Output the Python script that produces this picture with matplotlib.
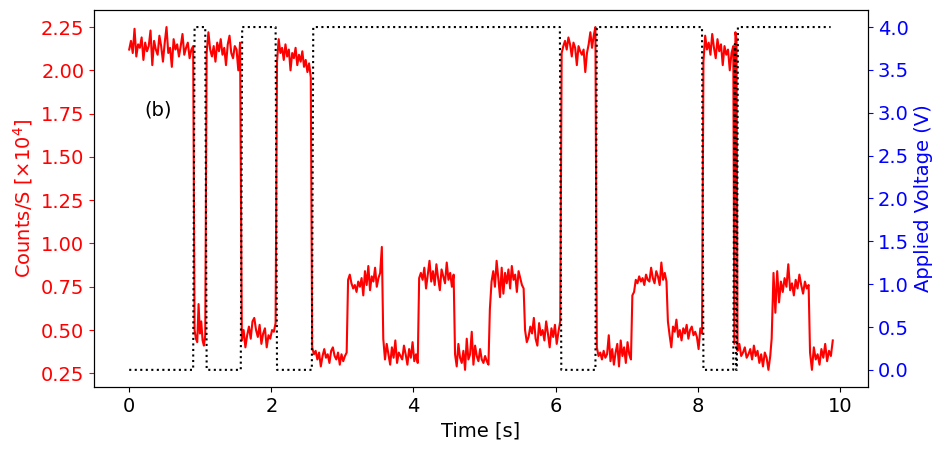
"""
Photon counts vs. applied voltage, panel (b).
"""

import numpy as np
import matplotlib.pyplot as plt

plt.rcParams.update({
    'font.family': 'DejaVu Sans',
    'font.size': 14,
})

# ── Applied voltage (square wave, corner points) ───────────────
volt_t = [0.0, 0.90, 0.92, 1.07, 1.09, 1.57, 1.59, 2.06, 2.08, 2.57, 2.59, 6.06,
          6.08, 6.56, 6.58, 8.06, 8.08, 8.50, 8.52, 8.53, 8.54, 8.55, 8.565, 9.87]
volt_v = [0, 0, 4, 4, 0, 0, 4, 4, 0, 0, 4, 4,
          0, 0, 4, 4, 0, 0, 3.8, 3.8, 0, 0, 4, 4]

# ── Counts trace, read segment by segment (start, end, values) ──
seg_start = [0.0, 0.92, 1.09, 1.585, 2.08, 2.575, 3.08, 3.575, 4.08, 4.585, 5.075,
             5.57, 6.085, 6.58, 7.08, 7.58, 8.08, 8.515, 8.56, 9.04, 9.58]
seg_end = [0.90, 1.07, 1.56, 2.06, 2.555, 3.06, 3.555, 4.06, 4.565, 5.055, 5.55,
           6.065, 6.56, 7.06, 7.56, 8.06, 8.50, 8.545, 9.02, 9.56, 9.90]
seg_values = [
    [2.12, 2.17, 2.10, 2.24, 2.08, 2.15, 2.13, 2.19, 2.06, 2.16, 2.11, 2.14, 2.23,
     2.03, 2.17, 2.12, 2.09, 2.20, 2.14, 2.05, 2.16, 2.25, 2.10, 2.13, 2.02, 2.18,
     2.12, 2.15, 2.08, 2.14, 2.21, 2.09, 2.13, 2.16, 2.07, 2.12, 2.14],
    [0.50, 0.45, 0.43, 0.65, 0.48, 0.55, 0.44, 0.41, 0.47],
    [2.10, 2.22, 2.12, 2.08, 2.14, 2.05, 2.16, 2.11, 2.18, 2.09, 2.13, 2.03, 2.15,
     2.20, 2.10, 2.07, 2.14, 2.12, 2.00, 2.16],
    [0.44, 0.50, 0.40, 0.47, 0.52, 0.45, 0.55, 0.57, 0.50, 0.46, 0.53, 0.42, 0.48,
     0.51, 0.40, 0.47, 0.45, 0.50, 0.49, 0.54],
    [2.05, 2.18, 2.10, 2.13, 2.06, 2.15, 2.08, 2.12, 2.00, 2.10, 2.07, 2.13, 2.03,
     2.09, 2.05, 2.11, 2.02, 2.06, 1.99, 2.04, 1.96],
    [0.40, 0.36, 0.38, 0.33, 0.37, 0.29, 0.35, 0.39, 0.34, 0.36, 0.31, 0.38, 0.40,
     0.35, 0.33, 0.37, 0.30, 0.36, 0.32, 0.35, 0.37],
    [0.79, 0.82, 0.77, 0.74, 0.76, 0.72, 0.78, 0.75, 0.80, 0.70, 0.84, 0.76, 0.87,
     0.73, 0.81, 0.78, 0.86, 0.75, 0.80, 0.83, 0.98],
    [0.45, 0.33, 0.42, 0.36, 0.30, 0.40, 0.34, 0.44, 0.31, 0.37, 0.35, 0.33, 0.41,
     0.36, 0.30, 0.39, 0.34, 0.43, 0.32, 0.36, 0.31],
    [0.80, 0.83, 0.79, 0.86, 0.74, 0.82, 0.90, 0.78, 0.84, 0.76, 0.88, 0.80, 0.73,
     0.85, 0.81, 0.77, 0.89, 0.79, 0.83, 0.75, 0.82],
    [0.36, 0.29, 0.42, 0.34, 0.31, 0.38, 0.27, 0.45, 0.33, 0.36, 0.49, 0.30, 0.41,
     0.35, 0.32, 0.39, 0.33, 0.31, 0.35, 0.32, 0.30],
    [0.62, 0.78, 0.84, 0.75, 0.90, 0.80, 0.69, 0.86, 0.71, 0.83, 0.77, 0.85, 0.74,
     0.87, 0.79, 0.82, 0.72, 0.84, 0.80, 0.76, 0.74],
    [0.50, 0.43, 0.46, 0.52, 0.48, 0.57, 0.45, 0.41, 0.54, 0.47, 0.50, 0.44, 0.55,
     0.48, 0.40, 0.51, 0.46, 0.53, 0.42, 0.49, 0.55],
    [2.10, 2.14, 2.17, 2.12, 2.19, 2.15, 2.08, 2.16, 2.13, 2.03, 2.14, 2.11, 2.09,
     2.12, 1.99, 2.10, 2.15, 2.22, 2.13, 2.20, 2.25],
    [0.40, 0.35, 0.37, 0.33, 0.38, 0.34, 0.36, 0.47, 0.32, 0.39, 0.30, 0.37, 0.42,
     0.29, 0.44, 0.35, 0.40, 0.31, 0.43, 0.36, 0.33],
    [0.70, 0.72, 0.79, 0.77, 0.81, 0.78, 0.80, 0.76, 0.82, 0.79, 0.78, 0.86, 0.80,
     0.77, 0.84, 0.81, 0.76, 0.89, 0.79, 0.83, 0.78],
    [0.55, 0.47, 0.40, 0.52, 0.49, 0.56, 0.46, 0.50, 0.44, 0.51, 0.48, 0.53, 0.45,
     0.50, 0.52, 0.47, 0.49, 0.46, 0.39, 0.51, 0.48],
    [2.05, 2.20, 2.12, 2.16, 2.09, 2.21, 2.13, 2.07, 2.18, 2.11, 2.15, 2.03, 2.14,
     2.09, 2.12, 2.00, 2.10, 2.14],
    [0.42, 2.22, 2.18],
    [0.38, 0.42, 0.35, 0.37, 0.40, 0.34, 0.36, 0.39, 0.33, 0.41, 0.35, 0.38, 0.31,
     0.36, 0.29, 0.37, 0.34, 0.27, 0.35],
    [0.45, 0.83, 0.60, 0.84, 0.66, 0.78, 0.72, 0.80, 0.75, 0.88, 0.73, 0.77, 0.70,
     0.79, 0.74, 0.82, 0.76, 0.71, 0.78, 0.74, 0.76],
    [0.37, 0.27, 0.40, 0.33, 0.36, 0.30, 0.39, 0.34, 0.42, 0.32, 0.38, 0.35, 0.44],
]


def main():
    t_counts = np.concatenate([np.linspace(a, b, len(v))
                               for a, b, v in zip(seg_start, seg_end, seg_values)])
    counts = np.concatenate([np.asarray(v) for v in seg_values])

    fig, ax1 = plt.subplots(figsize=(9.42, 4.5), dpi=100)
    fig.subplots_adjust(left=0.0998, right=0.9214, bottom=0.14, top=0.978)

    ax1.plot(t_counts, counts, color="red", linewidth=1.5)
    ax1.set_xlabel("Time [s]")
    ax1.set_ylabel(r"Counts/S [$\times10^4$]", color="red")
    ax1.tick_params(axis="y", colors="red")
    ax1.set_yticks(np.arange(0.25, 2.26, 0.25))
    ax1.text(0.22, 1.74, "(b)", fontsize=14)

    ax2 = ax1.twinx()
    ax2.plot(volt_t, volt_v, color="black", linestyle=":", linewidth=1.5)
    ax2.set_ylabel("Applied Voltage (V)", color="blue")
    ax2.tick_params(axis="y", colors="blue")

    fig.savefig("out.png", dpi=100, facecolor="white")


if __name__ == "__main__":
    main()
